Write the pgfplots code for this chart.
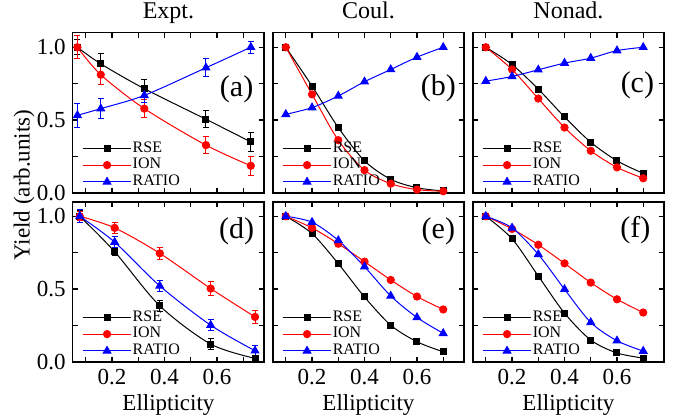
\documentclass[border=0pt]{standalone}
\usepackage{fontspec}
\setmainfont{Liberation Serif}
\newfontfamily\tnr{Liberation Serif}
\usepackage{pgfplots}
\pgfplotsset{compat=1.18}
\usepgfplotslibrary{groupplots}
\usetikzlibrary{calc}

\pgfplotsset{
  limg/.style={legend image code/.code={%
    \draw[mark=none] (0pt,0pt) -- (24pt,0pt);
    \draw plot coordinates {(12pt,0pt)};}},
  rse/.style={black, line width=0.5pt, smooth, mark=square*, mark size=1.5pt, mark options={solid}, limg},
  ion/.style={red, line width=0.5pt, smooth, mark=*, mark size=1.8pt, mark options={solid}, limg},
  rat/.style={blue, line width=0.5pt, smooth, mark=triangle*, mark size=2.2pt, mark options={solid}, limg},
  eb/.style={error bars/.cd, y dir=both, y explicit,
    error bar style={line width=0.5pt},
    error mark options={rotate=90, mark size=1.5pt, line width=0.5pt}},
}

\begin{document}
\begin{tikzpicture}[font=\tnr]
\begin{groupplot}[
  group style={group size=3 by 2, horizontal sep=4.25pt, vertical sep=4.5pt,
    xticklabels at=edge bottom, yticklabels at=edge left},
  width=95.75pt, height=80pt, scale only axis,
  xmin=0.05, xmax=0.78, ymin=0, ymax=1.1,
  xtick={0.2,0.4,0.6}, minor xtick={0.1,0.3,0.5,0.7},
  ytick={0,0.5,1}, minor ytick={0.25,0.75},
  xticklabels={0.2,0.4,0.6}, yticklabels={0.0,0.5,1.0},
  tick align=inside, major tick length=2.5pt, minor tick length=2.5pt,
  axis line style={line width=0.8pt}, every tick/.style={line width=0.6pt, black},
  /pgf/number format/assume math mode=true,
  tick label style={font=\tnr\fontsize{11.5}{13}\selectfont},
  title style={font=\tnr\fontsize{12}{14}\selectfont, at={(0.5,1)}, anchor=base, yshift=1pt},
  label style={font=\tnr\fontsize{11.5}{13}\selectfont},
  xlabel style={yshift=2pt},
  legend style={at={(0.018,-0.01)}, anchor=south west, draw=none, fill=none,
    font=\tnr\fontsize{8}{9}\selectfont, row sep=0.4pt, nodes={inner sep=0.6pt}},
  legend cell align=left,
]
% (a) experiment
\nextgroupplot[title={Expt.}]
\addplot[rse, eb] coordinates {(0.068,1.0)+-(0,0.05) (0.157,0.886)+-(0,0.068) (0.323,0.715)+-(0,0.063) (0.558,0.505)+-(0,0.06) (0.729,0.349)+-(0,0.066)};
\addplot[ion, eb] coordinates {(0.068,1.0)+-(0,0.08) (0.157,0.811)+-(0,0.064) (0.323,0.578)+-(0,0.063) (0.558,0.327)+-(0,0.06) (0.729,0.185)+-(0,0.065)};
\addplot[rat, eb] coordinates {(0.068,0.532)+-(0,0.082) (0.157,0.578)+-(0,0.067) (0.323,0.669)+-(0,0.05) (0.558,0.859)+-(0,0.062) (0.729,1.0)+-(0,0.041)};
\legend{RSE,ION,RATIO}
\node[font=\tnr\fontsize{15}{17}\selectfont] at (rel axis cs:0.856,0.645) {(a)};

% (b) Coulomb
\nextgroupplot[title={Coul.}]
\addplot[rse] coordinates {(0.1,1.0) (0.2,0.733) (0.3,0.448) (0.4,0.219) (0.5,0.092) (0.6,0.034) (0.7,0.012)};
\addplot[ion] coordinates {(0.1,1.0) (0.2,0.676) (0.3,0.361) (0.4,0.155) (0.5,0.062) (0.6,0.021) (0.7,0.01)};
\addplot[rat] coordinates {(0.1,0.539) (0.2,0.585) (0.3,0.665) (0.4,0.763) (0.5,0.847) (0.6,0.932) (0.7,1.0)};
\legend{RSE,ION,RATIO}
\node[font=\tnr\fontsize{15}{17}\selectfont] at (rel axis cs:0.865,0.655) {(b)};

% (c) nonadiabatic
\nextgroupplot[title={Nonad.}]
\addplot[rse] coordinates {(0.1,1.0) (0.2,0.881) (0.3,0.712) (0.4,0.521) (0.5,0.347) (0.6,0.219) (0.7,0.133)};
\addplot[ion] coordinates {(0.1,1.0) (0.2,0.847) (0.3,0.647) (0.4,0.448) (0.5,0.288) (0.6,0.174) (0.7,0.099)};
\addplot[rat] coordinates {(0.1,0.767) (0.2,0.799) (0.3,0.845) (0.4,0.891) (0.5,0.925) (0.6,0.977) (0.7,1.0)};
\legend{RSE,ION,RATIO}
\node[font=\tnr\fontsize{15}{17}\selectfont] at (rel axis cs:0.86,0.673) {(c)};

% (d) experiment
\nextgroupplot[xlabel={Ellipticity}]
\addplot[rse, eb] coordinates {(0.077,1.0)+-(0,0.04) (0.21,0.756)+-(0,0.028) (0.382,0.384)+-(0,0.036) (0.576,0.121)+-(0,0.036) (0.745,0.023)+-(0,0.02)};
\addplot[ion, eb] coordinates {(0.077,1.0)+-(0,0.03) (0.21,0.920)+-(0,0.038) (0.382,0.745)+-(0,0.042) (0.576,0.503)+-(0,0.045) (0.745,0.308)+-(0,0.042)};
\addplot[rat, eb] coordinates {(0.077,1.0)+-(0,0.043) (0.21,0.822)+-(0,0.04) (0.382,0.521)+-(0,0.04) (0.576,0.251)+-(0,0.038) (0.745,0.075)+-(0,0.034)};
\legend{RSE,ION,RATIO}
\node[font=\tnr\fontsize{15}{17}\selectfont] at (rel axis cs:0.856,0.814) {(d)};

% (e) Coulomb
\nextgroupplot[xlabel={Ellipticity}]
\addplot[rse] coordinates {(0.1,1.0) (0.2,0.881) (0.3,0.674) (0.4,0.445) (0.5,0.251) (0.6,0.137) (0.7,0.068)};
\addplot[ion] coordinates {(0.1,1.0) (0.2,0.920) (0.3,0.811) (0.4,0.688) (0.5,0.562) (0.6,0.448) (0.7,0.359)};
\addplot[rat] coordinates {(0.1,1.0) (0.2,0.959) (0.3,0.834) (0.4,0.653) (0.5,0.452) (0.6,0.304) (0.7,0.195)};
\legend{RSE,ION,RATIO}
\node[font=\tnr\fontsize{15}{17}\selectfont] at (rel axis cs:0.865,0.814) {(e)};

% (f) nonadiabatic
\nextgroupplot[xlabel={Ellipticity}]
\addplot[rse] coordinates {(0.1,1.0) (0.2,0.845) (0.3,0.589) (0.4,0.334) (0.5,0.149) (0.6,0.060) (0.7,0.025)};
\addplot[ion] coordinates {(0.1,1.0) (0.2,0.913) (0.3,0.804) (0.4,0.676) (0.5,0.544) (0.6,0.429) (0.7,0.338)};
\addplot[rat] coordinates {(0.1,1.0) (0.2,0.92) (0.3,0.738) (0.4,0.498) (0.5,0.270) (0.6,0.144) (0.7,0.073)};
\legend{RSE,ION,RATIO}
\node[font=\tnr\fontsize{15}{17}\selectfont] at (rel axis cs:0.85,0.82) {(f)};
\end{groupplot}

\node[rotate=90, font=\tnr\fontsize{11.5}{13}\selectfont] at ($(group c1r1.north west)+(-24.35pt,-76.15pt)$) {Yield (arb.units)};

\pgfresetboundingbox
\path[use as bounding box] ($(group c1r1.north west)+(-36.35pt,16.35pt)$) rectangle ($(group c1r1.north west)+(300.65pt,-192.65pt)$);
\end{tikzpicture}
\end{document}
